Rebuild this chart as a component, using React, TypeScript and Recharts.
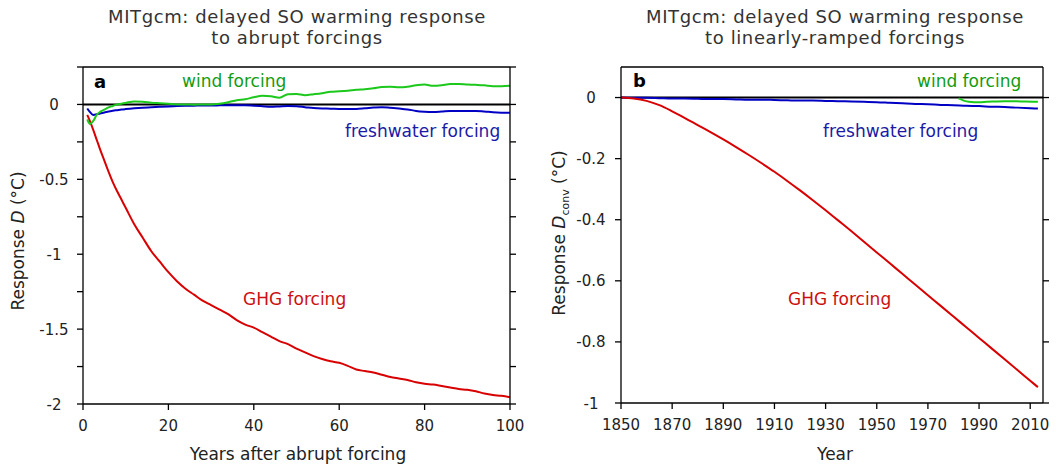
import React from 'react';
import { LineChart, Line, XAxis, YAxis, ReferenceLine } from 'recharts';

const FONT = '"DejaVu Sans", "Open Sans", sans-serif';

// panel a: abrupt forcings, years after switch-on
const yearsA = [1, 1.6, 2.4, 3.2, 4, 5, 6, 7, 8, 9, 10, 12, 14, 16, 18, 20, 22, 24, 26, 28, 30, 32, 34, 36, 38, 40, 42, 44, 46, 48, 50, 52, 54, 56, 58, 60, 62, 64, 66, 68, 70, 72, 74, 76, 78, 80, 82, 84, 86, 88, 90, 92, 94, 96, 98, 100];
const ghgA = [-0.07, -0.11, -0.17, -0.235, -0.3, -0.375, -0.45, -0.52, -0.58, -0.635, -0.69, -0.8, -0.89, -0.98, -1.05, -1.12, -1.18, -1.23, -1.27, -1.31, -1.34, -1.37, -1.4, -1.44, -1.47, -1.49, -1.52, -1.55, -1.58, -1.6, -1.63, -1.655, -1.68, -1.7, -1.715, -1.725, -1.745, -1.77, -1.78, -1.79, -1.805, -1.82, -1.83, -1.84, -1.855, -1.865, -1.87, -1.88, -1.89, -1.9, -1.905, -1.915, -1.93, -1.94, -1.945, -1.955];
const windA = [-0.1, -0.13, -0.11, -0.07, -0.05, -0.035, -0.02, -0.01, 0, 0.005, 0.01, 0.02, 0.018, 0.012, 0.008, 0.004, 0, 0, -0.002, 0, 0, 0.005, 0.015, 0.028, 0.035, 0.048, 0.058, 0.055, 0.045, 0.068, 0.07, 0.062, 0.068, 0.075, 0.085, 0.088, 0.092, 0.098, 0.102, 0.108, 0.117, 0.118, 0.114, 0.118, 0.128, 0.133, 0.124, 0.128, 0.136, 0.136, 0.133, 0.131, 0.128, 0.122, 0.122, 0.124];
const freshA = [-0.027, -0.05, -0.07, -0.066, -0.06, -0.054, -0.047, -0.042, -0.038, -0.034, -0.031, -0.026, -0.022, -0.019, -0.016, -0.013, -0.011, -0.009, -0.008, -0.007, -0.007, -0.006, -0.005, -0.005, -0.005, -0.008, -0.012, -0.016, -0.013, -0.01, -0.012, -0.018, -0.024, -0.027, -0.028, -0.03, -0.03, -0.03, -0.026, -0.021, -0.018, -0.022, -0.027, -0.033, -0.043, -0.048, -0.05, -0.047, -0.043, -0.043, -0.044, -0.043, -0.047, -0.052, -0.055, -0.056];
const xTicksA = [0, 20, 40, 60, 80, 100];
const yTicksA = [0.25, 0, -0.25, -0.5, -0.75, -1, -1.25, -1.5, -1.75, -2];

// panel b: linearly-ramped forcings, calendar years
const yearsB = [1850, 1855, 1860, 1865, 1870, 1875, 1880, 1885, 1890, 1895, 1900, 1905, 1910, 1915, 1920, 1925, 1930, 1935, 1940, 1945, 1950, 1955, 1960, 1965, 1970, 1975, 1980, 1985, 1990, 1995, 2000, 2005, 2010, 2013];
const ghgB = [0, -0.003, -0.011, -0.025, -0.045, -0.067, -0.09, -0.113, -0.137, -0.162, -0.188, -0.215, -0.243, -0.273, -0.304, -0.336, -0.369, -0.403, -0.437, -0.472, -0.507, -0.542, -0.577, -0.612, -0.647, -0.682, -0.717, -0.752, -0.787, -0.822, -0.857, -0.892, -0.927, -0.948];
const freshB = [0, -0.001, -0.001, -0.002, -0.003, -0.003, -0.004, -0.005, -0.005, -0.006, -0.007, -0.007, -0.008, -0.009, -0.01, -0.01, -0.011, -0.012, -0.013, -0.014, -0.015, -0.017, -0.019, -0.021, -0.022, -0.024, -0.025, -0.027, -0.028, -0.03, -0.031, -0.033, -0.035, -0.036];
const windYearsB = [1982, 1984, 1986, 1988, 1990, 1993, 1996, 2000, 2004, 2008, 2013];
const windB = [-0.003, -0.01, -0.014, -0.015, -0.015, -0.014, -0.013, -0.012, -0.012, -0.013, -0.014];
const xTicksB = [1850, 1870, 1890, 1910, 1930, 1950, 1970, 1990, 2010];
const yTicksB = [0, -0.2, -0.4, -0.6, -0.8, -1];

const RED = '#d80000';
const GREEN = '#1cc81c';
const BLUE = '#0000c4';

const toRows = (xs: number[], ys: number[]) => xs.map((x, i) => ({ x, y: ys[i] }));

const xTick = (props: any) => (
  <text x={props.x} y={props.y + 21} textAnchor="middle" fontSize={15} fill="#222" fontFamily={FONT}>
    {props.payload.value}
  </text>
);

const yTick = (cx: number, show: (v: number) => boolean) => (props: any) => {
  const v = props.payload.value;
  if (!show(v)) return <g />;
  return (
    <text x={cx} y={props.y + 5.5} textAnchor="middle" fontSize={15} fill="#222" fontFamily={FONT}>
      {v === 0 ? '0' : String(v)}
    </text>
  );
};

const axisStyle = { stroke: '#000', strokeWidth: 1.3 };

function Panel(props: {
  left: number;
  marginLeft: number;
  marginRight: number;
  bottomH: number;
  xDomain: [number, number];
  xTicks: number[];
  yDomain: [number, number];
  yTicks: number[];
  tickCx: number;
  showLabel: (v: number) => boolean;
  series: { data: { x: number; y: number }[]; color: string; name: string }[];
}) {
  return (
    <div style={{ position: 'absolute', left: props.left, top: 0 }}>
      <LineChart
        width={528}
        height={468}
        margin={{ top: 57, right: props.marginRight, bottom: 0, left: props.marginLeft }}
      >
        <XAxis
          dataKey="x"
          type="number"
          domain={props.xDomain}
          ticks={props.xTicks}
          allowDataOverflow
          height={props.bottomH}
          axisLine={axisStyle}
          tickLine={axisStyle}
          tickSize={6}
          tickMargin={0}
          tick={xTick}
        />
        <XAxis
          xAxisId="top"
          orientation="top"
          type="number"
          domain={props.xDomain}
          ticks={props.xTicks}
          allowDataOverflow
          height={10}
          axisLine={axisStyle}
          tickLine={axisStyle}
          tickSize={6}
          tickFormatter={() => ''}
        />
        <YAxis
          type="number"
          domain={props.yDomain}
          ticks={props.yTicks}
          allowDataOverflow
          width={40}
          axisLine={axisStyle}
          tickLine={axisStyle}
          tickSize={6}
          tick={yTick(props.tickCx, props.showLabel)}
        />
        <YAxis
          yAxisId="right"
          orientation="right"
          type="number"
          domain={props.yDomain}
          ticks={props.yTicks}
          allowDataOverflow
          width={10}
          axisLine={axisStyle}
          tickLine={axisStyle}
          tickSize={6}
          tickFormatter={() => ''}
        />
        <ReferenceLine y={0} stroke="#000" strokeWidth={2} />
        {props.series.map((s) => (
          <Line
            key={s.name}
            data={s.data}
            dataKey="y"
            name={s.name}
            type="monotone"
            stroke={s.color}
            strokeWidth={2}
            dot={false}
            isAnimationActive={false}
          />
        ))}
      </LineChart>
    </div>
  );
}

export default function App() {
  return (
    <div style={{ position: 'absolute', left: 0, top: 0, width: 1056, height: 468, background: '#fff', fontFamily: FONT }}>
      <Panel
        left={0}
        marginLeft={43}
        marginRight={8}
        bottomH={64}
        xDomain={[0, 100]}
        xTicks={xTicksA}
        yDomain={[-2, 0.25]}
        yTicks={yTicksA}
        tickCx={54}
        showLabel={(v) => v <= 0 && Number.isInteger(v * 2)}
        series={[
          { data: toRows(yearsA, freshA), color: BLUE, name: 'freshwater' },
          { data: toRows(yearsA, ghgA), color: RED, name: 'GHG' },
          { data: toRows(yearsA, windA), color: GREEN, name: 'wind' },
        ]}
      />
      <Panel
        left={528}
        marginLeft={53}
        marginRight={3}
        bottomH={65}
        xDomain={[1850, 2015]}
        xTicks={xTicksB}
        yDomain={[-1, 0.1]}
        yTicks={yTicksB}
        tickCx={63}
        showLabel={() => true}
        series={[
          { data: toRows(yearsB, freshB), color: BLUE, name: 'freshwater' },
          { data: toRows(yearsB, ghgB), color: RED, name: 'GHG' },
          { data: toRows(windYearsB, windB), color: GREEN, name: 'wind' },
        ]}
      />
      <svg width={1056} height={468} style={{ position: 'absolute', left: 0, top: 0, pointerEvents: 'none' }}>
        <g fill="#333" fontFamily={FONT} fontSize={18} letterSpacing={0.6} textAnchor="middle">
          <text x={297} y={23}>MITgcm: delayed SO warming response</text>
          <text x={297} y={44}>to abrupt forcings</text>
          <text x={835} y={23}>MITgcm: delayed SO warming response</text>
          <text x={835} y={44}>to linearly-ramped forcings</text>
        </g>
        <g fill="#222" fontFamily={FONT} fontSize={17}>
          <text x={298} y={460} textAnchor="middle">Years after abrupt forcing</text>
          <text x={835} y={460} textAnchor="middle">Year</text>
          <text transform="translate(24,241) rotate(-90)" textAnchor="middle">
            Response <tspan fontStyle="italic">D</tspan> (°C)
          </text>
          <text transform="translate(565,233) rotate(-90)" textAnchor="middle">
            Response <tspan fontStyle="italic">D</tspan>
            <tspan fontSize={11} dy={4}>conv</tspan>
            <tspan dy={-4}> (°C)</tspan>
          </text>
        </g>
        <g fontFamily={FONT} fontSize={17}>
          <text x={94} y={88} fontWeight="bold" fontSize={18} fill="#000">a</text>
          <text x={182} y={86.5} fill="#129c12">wind forcing</text>
          <text x={345} y={137} fill="#1a1aa6">freshwater forcing</text>
          <text x={243} y={305} fill="#cc1010">GHG forcing</text>
          <text x={633} y={87} fontWeight="bold" fontSize={18} fill="#000">b</text>
          <text x={917} y={86.5} fill="#129c12">wind forcing</text>
          <text x={823} y={137} fill="#1a1aa6">freshwater forcing</text>
          <text x={788} y={305} fill="#cc1010">GHG forcing</text>
        </g>
      </svg>
    </div>
  );
}
